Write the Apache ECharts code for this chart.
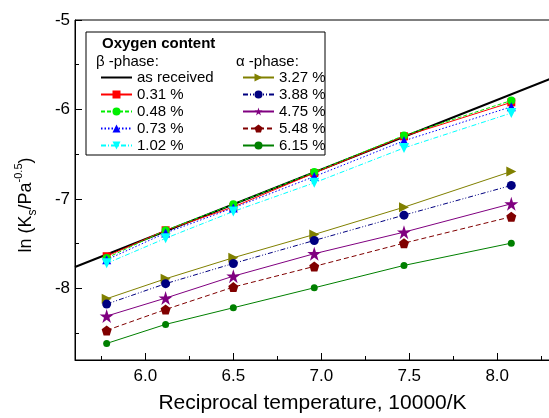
<!DOCTYPE html>
<html>
<head>
<meta charset="utf-8">
<script src="https://cdn.jsdelivr.net/npm/echarts@6/dist/echarts.min.js"></script>
<style>html,body{margin:0;padding:0;background:#fff;}#c{width:549px;height:418px;}</style>
</head>
<body>
<div id="c"></div>
<script>
// ---- data ----
var xValues = [5.78, 6.115, 6.50, 6.96, 7.47, 8.08];
var asReceivedX = [5.6, 8.3];
var asReceivedY = [-7.76, -5.66];
var beta031 = [-7.64, -7.35, -7.09, -6.71, -6.30, -5.92];
var beta048 = [-7.66, -7.35, -7.06, -6.70, -6.29, -5.90];
var beta073 = [-7.68, -7.38, -7.10, -6.75, -6.35, -5.97];
var beta102 = [-7.72, -7.44, -7.14, -6.82, -6.43, -6.04];
var alpha327 = [-8.115, -7.892, -7.657, -7.397, -7.092, -6.693];
var alpha388 = [-8.175, -7.947, -7.721, -7.464, -7.181, -6.849];
var alpha475 = [-8.309, -8.108, -7.863, -7.612, -7.371, -7.054];
var alpha548 = [-8.469, -8.235, -7.985, -7.754, -7.494, -7.199];
var alpha615 = [-8.615, -8.402, -8.216, -7.993, -7.743, -7.494];
var xMajorTicks = [6.0, 6.5, 7.0, 7.5, 8.0];
var xMinorTicks = [5.75, 6.25, 6.75, 7.25, 7.75, 8.25];
var yMajorTicks = [-8, -7, -6, -5];
var yMinorTicks = [-8.5, -7.5, -6.5, -5.5];

function pairs(xs, ys) { return xs.map(function (x, i) { return [x, ys[i]]; }); }

var FONT = '"Liberation Sans", Arial, sans-serif';
var triRight = 'path://M0,0L10,5L0,10Z';
var triDown = 'path://M0,0L10,0L5,9Z';
var star = 'path://M10,0L12.25,6.91L19.51,6.91L13.63,11.18L15.88,18.09L10,13.82L4.12,18.09L6.37,11.18L0.49,6.91L7.75,6.91Z';
var pentagon = 'path://M10,0L19.51,6.91L15.88,18.09L4.12,18.09L0.49,6.91Z';
var lineIcon = 'path://M0,0L31,0L31,2L0,2Z';

function mk(name, ys, color, symbol, size, ltype, lw) {
  return {
    name: name, type: 'line', data: pairs(xValues, ys),
    symbol: symbol, symbolSize: size, showSymbol: true,
    itemStyle: { color: color },
    lineStyle: { color: color, width: lw || 1, type: ltype },
    emphasis: { disabled: true }, animation: false, z: 3
  };
}

var series = [
  { name: 'as received', type: 'line', data: pairs(asReceivedX, asReceivedY), symbol: 'none',
    lineStyle: { color: '#000', width: 2 }, itemStyle: { color: '#000' }, animation: false, z: 2 },
  mk('0.31 %', beta031, '#ff0000', 'rect', 8, 'solid'),
  mk('0.48 %', beta048, '#00ee00', 'circle', 8, [4, 2]),
  mk('0.73 %', beta073, '#0000ff', 'triangle', 9, [1.5, 2]),
  mk('1.02 %', beta102, '#00ffff', triDown, 10, [5, 2, 1, 2]),
  mk('3.27 %', alpha327, '#808000', triRight, 10, 'solid'),
  mk('3.88 %', alpha388, '#000080', 'circle', 9, [5, 2, 1, 2, 1, 2]),
  mk('4.75 %', alpha475, '#800080', star, 14, 'solid'),
  mk('5.48 %', alpha548, '#800000', pentagon, 10, [5, 3]),
  mk('6.15 %', alpha615, '#008000', 'circle', 7, 'solid')
];

var legendCommon = { orient: 'vertical', top: 70, padding: 0, itemWidth: 31, itemHeight: 10, itemGap: 2,
  selectedMode: false, textStyle: { color: '#000', fontFamily: FONT, fontSize: 15 } };

var chart = echarts.init(document.getElementById('c'), null, { renderer: 'canvas' });
chart.setOption({
  animation: false,
  backgroundColor: '#fff',
  grid: { left: 75, top: 20, width: 475, height: 340, outerBoundsMode: 'none', containLabel: false,
    show: true, borderColor: '#000', borderWidth: 1, backgroundColor: 'transparent' },
  xAxis: [
    { type: 'value', min: 5.6, max: 8.3, position: 'bottom',
      axisLine: { show: true, onZero: false, lineStyle: { color: '#000', width: 1 } },
      axisTick: { show: true, inside: true, length: 7, customValues: xMajorTicks, lineStyle: { color: '#000' } },
      axisLabel: { customValues: xMajorTicks, color: '#000', fontFamily: FONT, fontSize: 17, margin: 8,
        formatter: function (v) { return v.toFixed(1); } },
      splitLine: { show: false },
      name: 'Reciprocal temperature, 10000/K', nameLocation: 'middle', nameGap: 33,
      nameTextStyle: { color: '#000', fontFamily: FONT, fontSize: 21 } },
    { type: 'value', min: 5.6, max: 8.3, position: 'bottom', offset: 0,
      axisLine: { show: false, onZero: false },
      axisTick: { show: true, inside: true, length: 4, customValues: xMinorTicks, lineStyle: { color: '#000' } },
      axisLabel: { show: false }, splitLine: { show: false } }
  ],
  yAxis: [
    { type: 'value', min: -8.8, max: -5, position: 'left',
      axisLine: { show: true, onZero: false, lineStyle: { color: '#000', width: 1 } },
      axisTick: { show: true, inside: true, length: 7, customValues: yMajorTicks, lineStyle: { color: '#000' } },
      axisLabel: { customValues: yMajorTicks, color: '#000', fontFamily: FONT, fontSize: 17, margin: 5 },
      splitLine: { show: false } },
    { type: 'value', min: -8.8, max: -5, position: 'left', offset: 0,
      axisLine: { show: false, onZero: false },
      axisTick: { show: true, inside: true, length: 4, customValues: yMinorTicks, lineStyle: { color: '#000' } },
      axisLabel: { show: false }, splitLine: { show: false } }
  ],
  legend: [
    Object.assign({}, legendCommon, { left: 100,
      data: [{ name: 'as received', icon: lineIcon }, '0.31 %', '0.48 %', '0.73 %', '1.02 %'] }),
    Object.assign({}, legendCommon, { left: 242,
      data: ['3.27 %', '3.88 %', '4.75 %', '5.48 %', '6.15 %'] })
  ],
  graphic: [
    { type: 'rect', shape: { x: 86, y: 32, width: 239, height: 123 }, style: { fill: '#fff', stroke: '#000', lineWidth: 1 }, z: 1, silent: true },
    { type: 'text', left: 102, top: 36, style: { text: 'Oxygen content', font: 'bold 15px "Liberation Sans", Arial, sans-serif', fill: '#000' }, z: 10 },
    { type: 'text', left: 96, top: 54, style: { text: 'β -phase:', font: '15px "Liberation Sans", Arial, sans-serif', fill: '#000' }, z: 10 },
    { type: 'text', left: 236, top: 54, style: { text: 'α -phase:', font: '15px "Liberation Sans", Arial, sans-serif', fill: '#000' }, z: 10 },
    { type: 'text', x: 26, y: 205, rotation: Math.PI / 2, z: 10,
      style: { text: '{m|ln (K}{sub|s}{m|/Pa}{sup|-0.5}{m|)}', align: 'center', verticalAlign: 'middle',
        rich: {
          m: { fontFamily: FONT, fontSize: 18, fill: '#000', lineHeight: 26, verticalAlign: 'middle' },
          sub: { fontFamily: FONT, fontSize: 12, fill: '#000', lineHeight: 26, verticalAlign: 'bottom' },
          sup: { fontFamily: FONT, fontSize: 11, fill: '#000', lineHeight: 26, verticalAlign: 'top' }
        } } }
  ],
  series: series
});
</script>
</body>
</html>
